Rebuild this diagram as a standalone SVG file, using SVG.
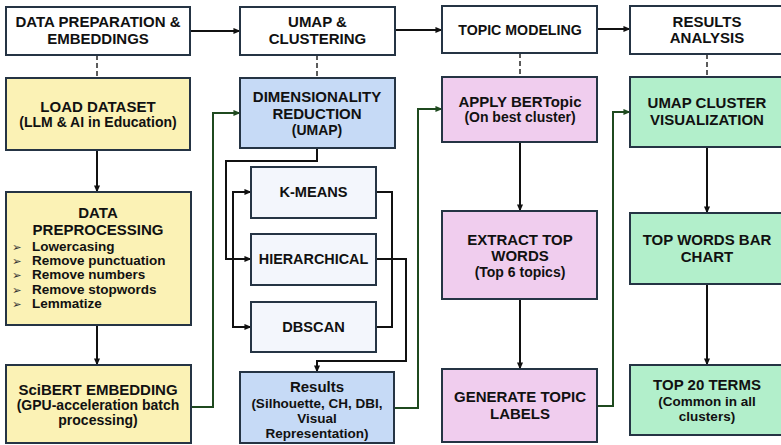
<svg xmlns="http://www.w3.org/2000/svg" width="781" height="445" viewBox="0 0 781 445">
<defs>
<marker id="ab" viewBox="0 0 8 8" refX="7.5" refY="4" markerWidth="7" markerHeight="7" markerUnits="userSpaceOnUse" orient="auto"><path d="M0,0.5 L8,4 L0,7.5 z" fill="#111"/></marker>
<marker id="ag" viewBox="0 0 8 8" refX="7.5" refY="4" markerWidth="7" markerHeight="7" markerUnits="userSpaceOnUse" orient="auto"><path d="M0,0.5 L8,4 L0,7.5 z" fill="#1f4a1f"/></marker>
<style>
rect{stroke:#253444;stroke-width:2}
.h{fill:#fff}
.y{fill:#fbf2b5}
.b{fill:#c6daf6}
.p{fill:#f3f6fc}
.m{fill:#f0cdee}
.g{fill:#b2efcb}
text{font-family:"Liberation Sans",Arial,sans-serif;font-weight:bold;fill:#111;text-anchor:middle}
.t{font-size:15px}
.s{font-size:14px}
.r{font-size:13.5px}
.l{font-size:13.5px;text-anchor:start}
.bu{font-family:"DejaVu Sans",sans-serif;font-size:11.5px;text-anchor:start;fill:#333}
.c{fill:none;stroke:#111;stroke-width:2}
.gr{fill:none;stroke:#1f4a1f;stroke-width:2}
.d{fill:none;stroke:#333;stroke-width:1.6;stroke-dasharray:5,3}
</style>
</defs>
<g id="connectors">
<path class="c" d="M190,31 H240" marker-end="url(#ab)"/>
<path class="c" d="M395,30 H442" marker-end="url(#ab)"/>
<path class="c" d="M597,29 H630" marker-end="url(#ab)"/>
<path class="d" d="M97,55 V78"/>
<path class="d" d="M317,55 V78"/>
<path class="d" d="M520,53 V77"/>
<path class="d" d="M707,54 V77"/>
<path class="c" d="M97,150 V192" marker-end="url(#ab)"/>
<path class="c" d="M97,325 V365" marker-end="url(#ab)"/>
<path class="gr" d="M190,407 H213 V113 H240" marker-end="url(#ag)"/>
<path class="c" d="M317,148 V161 H226 V259 H251" marker-end="url(#ab)"/>
<path class="c" d="M233,259 V192 H251" marker-end="url(#ab)"/>
<path class="c" d="M233,259 V327 H251" marker-end="url(#ab)"/>
<path class="c" d="M376,192 H392 V327 H376"/>
<path class="c" d="M376,259 H406 V361 H317 V372" marker-end="url(#ab)"/>
<path class="gr" d="M394,408 H418 V109 H442" marker-end="url(#ag)"/>
<path class="c" d="M520,142 V211" marker-end="url(#ab)"/>
<path class="c" d="M520,299 V369" marker-end="url(#ab)"/>
<path class="gr" d="M597,406 H613 V112 H630" marker-end="url(#ag)"/>
<path class="c" d="M707,147 V213" marker-end="url(#ab)"/>
<path class="c" d="M707,284 V365" marker-end="url(#ab)"/>
</g>
<g id="h1"><rect class="h" x="6" y="7" width="184" height="48"/><text class="t" x="98" y="27">DATA PREPARATION &amp;</text><text class="t" x="98" y="44">EMBEDDINGS</text></g>
<g id="h2"><rect class="h" x="240" y="7" width="155" height="48"/><text class="t" x="317.5" y="27">UMAP &amp;</text><text class="t" x="317.5" y="44">CLUSTERING</text></g>
<g id="h3"><rect class="h" x="442" y="6" width="155" height="47"/><text class="t" x="520" y="35" style="font-size:14.2px">TOPIC MODELING</text></g>
<g id="h4"><rect class="h" x="630" y="6" width="154" height="48"/><text class="t" x="707" y="27">RESULTS</text><text class="t" x="707" y="43">ANALYSIS</text></g>
<g id="load"><rect class="y" x="6" y="78" width="184" height="72"/><text class="t" x="98" y="112">LOAD DATASET</text><text class="s" x="98" y="127">(LLM &amp; AI in Education)</text></g>
<g id="prep"><rect class="y" x="6" y="192" width="185" height="133"/><text class="t" x="98" y="218">DATA</text><text class="t" x="98" y="235">PREPROCESSING</text>
<text class="bu" x="12" y="250.5">➢</text><text class="l" x="32" y="251">Lowercasing</text>
<text class="bu" x="12" y="264.5">➢</text><text class="l" x="32" y="265">Remove punctuation</text>
<text class="bu" x="12" y="278.5">➢</text><text class="l" x="32" y="279">Remove numbers</text>
<text class="bu" x="12" y="293.5">➢</text><text class="l" x="32" y="294">Remove stopwords</text>
<text class="bu" x="12" y="307.5">➢</text><text class="l" x="32" y="308">Lemmatize</text></g>
<g id="scibert"><rect class="y" x="6" y="365" width="185" height="78"/><text class="t" x="98" y="395">SciBERT EMBEDDING</text><text class="s" x="98" y="410">(GPU-acceleration batch</text><text class="s" x="98" y="425">processing)</text></g>
<g id="dim"><rect class="b" x="240" y="78" width="155" height="70"/><text class="t" x="317" y="102">DIMENSIONALITY</text><text class="t" x="317" y="119">REDUCTION</text><text class="s" x="317" y="135">(UMAP)</text></g>
<g id="kmeans"><rect class="p" x="251" y="167" width="125" height="51"/><text class="t" x="313.5" y="197" style="font-size:14.6px">K-MEANS</text></g>
<g id="hier"><rect class="p" x="251" y="234" width="125" height="51"/><text class="t" x="313.5" y="264" style="font-size:14.4px">HIERARCHICAL</text></g>
<g id="dbscan"><rect class="p" x="251" y="302" width="125" height="50"/><text class="t" x="313.5" y="332" style="font-size:14.6px">DBSCAN</text></g>
<g id="results"><rect class="b" x="240" y="372" width="154" height="71"/><text class="t" x="317" y="392">Results</text><text class="r" x="317" y="407.5">(Silhouette, CH, DBI,</text><text class="r" x="317" y="422.5">Visual</text><text class="r" x="317" y="437.5">Representation)</text></g>
<g id="apply"><rect class="m" x="442" y="77" width="155" height="65"/><text class="t" x="520" y="107">APPLY BERTopic</text><text class="s" x="520" y="122">(On best cluster)</text></g>
<g id="extract"><rect class="m" x="442" y="211" width="155" height="88"/><text class="t" x="520" y="245">EXTRACT TOP</text><text class="t" x="520" y="261">WORDS</text><text class="s" x="520" y="276.5">(Top 6 topics)</text></g>
<g id="generate"><rect class="m" x="442" y="369" width="155" height="73"/><text class="t" x="520" y="402">GENERATE TOPIC</text><text class="t" x="520" y="418.5">LABELS</text></g>
<g id="umapvis"><rect class="g" x="630" y="77" width="154" height="70"/><text class="t" x="707" y="108">UMAP CLUSTER</text><text class="t" x="707" y="125">VISUALIZATION</text></g>
<g id="topwords"><rect class="g" x="630" y="213" width="154" height="71"/><text class="t" x="707" y="245">TOP WORDS BAR</text><text class="t" x="707" y="262">CHART</text></g>
<g id="top20"><rect class="g" x="630" y="365" width="154" height="70"/><text class="t" x="707" y="389.5">TOP 20 TERMS</text><text class="r" x="707" y="405.5">(Common in all</text><text class="r" x="707" y="421">clusters)</text></g>
</svg>
